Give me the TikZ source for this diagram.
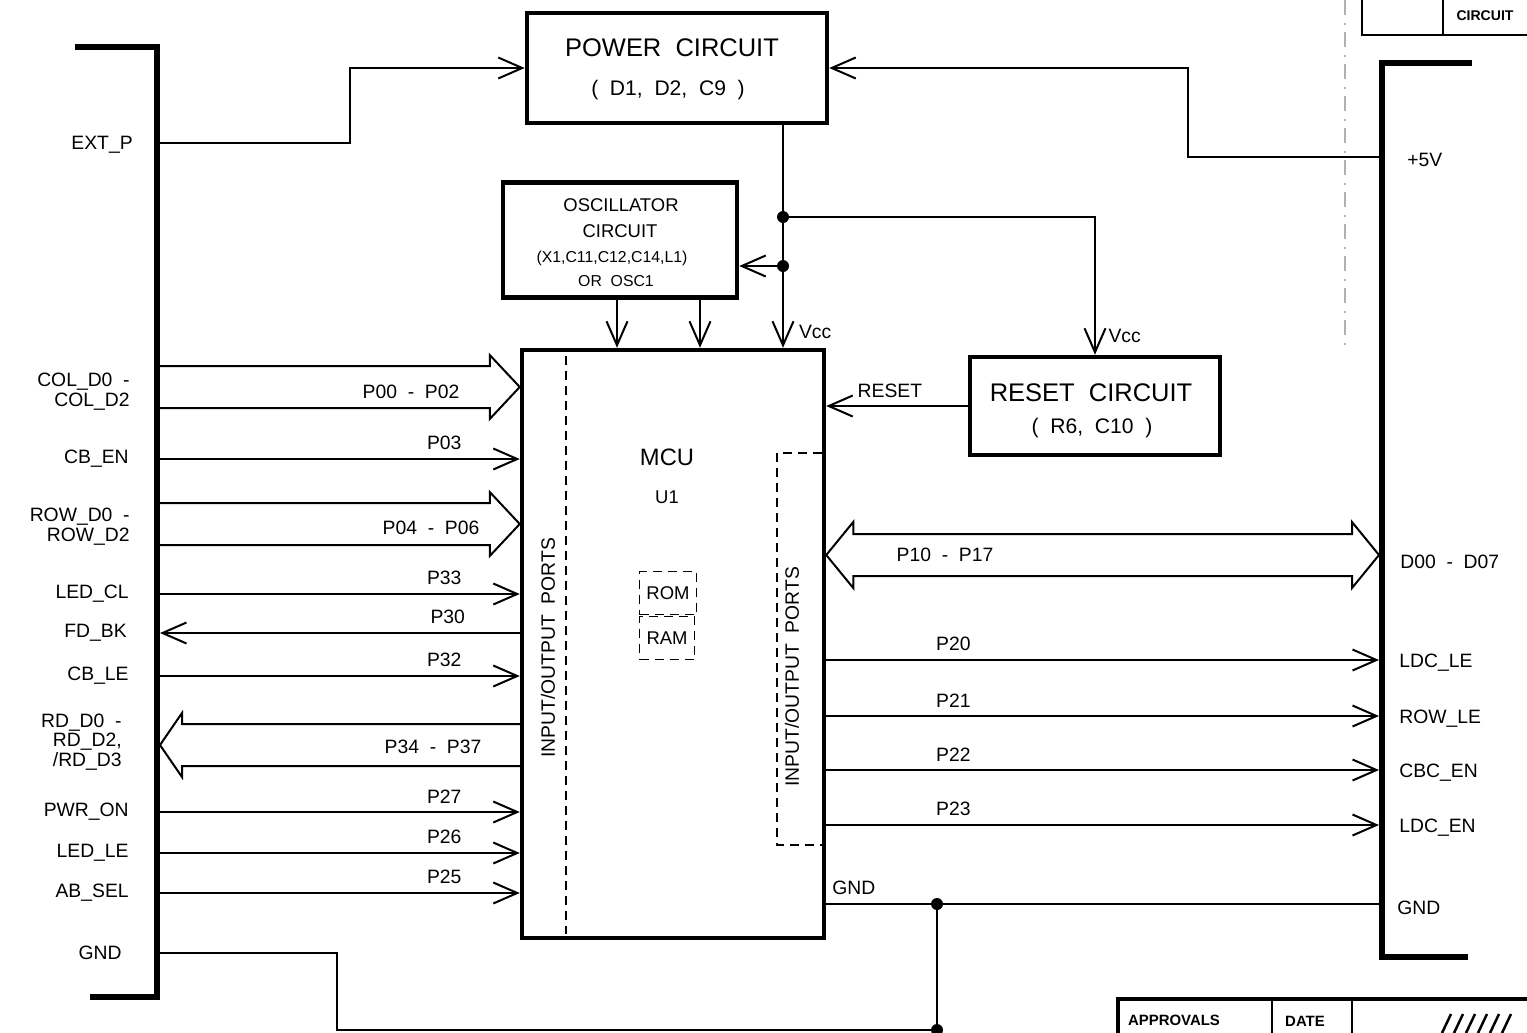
\documentclass[tikz,border=0pt]{standalone}
\usepackage{fontspec}
\setmainfont{Liberation Sans}
\usepackage{tikz}
\usetikzlibrary{arrows.meta,calc,positioning}

% fat bus arrow: #1 tail point, #2 tip point (same height), #3 head base offset
\newcommand{\busarrow}[3]{%
  \draw[wire] ($(#1)+(0,-21)$) -- ($(#2)+(#3,-21)$) -- ($(#2)+(#3,-32)$) -- (#2)
    -- ($(#2)+(#3,32)$) -- ($(#2)+(#3,21)$) -- ($(#1)+(0,21)$);}

\begin{document}
\begin{tikzpicture}[x=0.2mm,y=-0.2mm,
  box/.style={draw,line width=0.9mm,inner sep=0pt},
  bar/.style={line width=1.1mm},
  wire/.style={line width=0.4mm},
  sig/.style={wire,-{Straight Barb[length=4.8mm,width=4.2mm]}},
  port/.style={draw,line width=0.35mm,dash pattern=on 1.8mm off 1.2mm},
  jdot/.style={circle,fill,inner sep=0pt,minimum size=2.4mm},
  lab/.style={inner sep=0pt,font=\fontsize{11}{11.2}\selectfont},
  pinlab/.style={lab,above=1.6mm},
  big/.style={inner sep=0pt,font=\fontsize{14.5}{16}\selectfont},
  mid/.style={inner sep=0pt,font=\fontsize{12}{13}\selectfont},
  small/.style={inner sep=0pt,font=\fontsize{9}{10}\selectfont}]
\useasboundingbox (0,0) rectangle (1527,1033);

% connector bars
\draw[bar] (75,47) -- (157,47) -- (157,997) -- (90,997);
\draw[bar] (1472,63) -- (1382,63) -- (1382,957) -- (1468,957);

% blocks
\node[box,minimum width=60mm,minimum height=22mm] (pwr) at (677,68) {};
\node[big] (pwr-a) at (672,48) {POWER\ \ CIRCUIT};
\node[mid] (pwr-b) at (668,90) {(\ \ D1,\ \ D2,\ \ C9\ \ )};

\node[box,minimum width=46.8mm,minimum height=23mm] (osc) at (620,240) {};
\node[lab,font=\fontsize{10.5}{11}\selectfont] (osc-a) at (621,205) {OSCILLATOR};
\node[lab,font=\fontsize{10.5}{11}\selectfont] (osc-b) at (620,231) {CIRCUIT};
\node[small] (osc-c) at (612,258) {(X1,C11,C12,C14,L1)};
\node[small] (osc-d) at (616,281) {OR\ \ OSC1};

\node[box,minimum width=60.4mm,minimum height=117.6mm] (mcu) at (673,644) {};
\node[lab,font=\fontsize{13.5}{14}\selectfont] (mcu-a) at (667,457) {MCU};
\node[lab,font=\fontsize{10.5}{11}\selectfont] (mcu-b) at (667,497) {U1};
\node[port,lab,minimum width=11.4mm,minimum height=8.6mm,font=\fontsize{10.5}{11}\selectfont] (rom) at (668,593) {ROM};
\node[port,lab,minimum width=11mm,minimum height=8.6mm,font=\fontsize{10.5}{11}\selectfont] (ram) at (667,638) {RAM};
\draw[port] (566,356) -- (566,934);
\draw[port] (822,453) -- (777,453) -- (777,845) -- (822,845);
\node[lab,rotate=90] (io-l) at (548,648) {INPUT/OUTPUT\ \ PORTS};
\node[lab,rotate=90] (io-r) at (792,677) {INPUT/OUTPUT\ \ PORTS};

\node[box,minimum width=50mm,minimum height=19.6mm] (rst) at (1095,406) {};
\node[big] (rst-a) at (1091,393) {RESET\ \ CIRCUIT};
\node[mid] (rst-b) at (1092,428) {(\ \ R6,\ \ C10\ \ )};

% supply
\coordinate (L-extp) at (160,143);
\coordinate (R-5v) at (1379,157);
\coordinate (vx) at (783,0);
\coordinate (j1) at (783,217);
\coordinate (j2) at (783,266);
\node[lab,anchor=east] (t-extp) at (133,145) {EXT\_P};
\node[lab,anchor=west] (t-5v) at (1407,160) {+5V};
\draw[sig] (L-extp) -- ++(190,0) |- (pwr.west);
\draw[sig] (R-5v) -- ++(-191,0) |- (pwr.east);
\draw[sig] (pwr.south -| vx) -- (mcu.north -| vx) node[lab,right=3mm,pos=0.93] (vcc1) {Vcc};
\draw[sig] (j1) -| (rst.north) node[lab,right=2.5mm,pos=0.93] (vcc2) {Vcc};
\draw[sig] (j2) -- (j2 -| osc.east);
\node[jdot] at (j1) {};
\node[jdot] at (j2) {};
\foreach \xx in {617,700} {
  \coordinate (o\xx) at (\xx,0);
  \draw[sig] (osc.south -| o\xx) -- (mcu.north -| o\xx);
}
\draw[sig] (rst.west) -- (rst.west -| mcu.east) node[lab,above=1.5mm,pos=0.55] (t-rst) {RESET};

% left side signals
\coordinate (L-col) at (160,387);
\coordinate (L-row) at (160,524);
\coordinate (L-rd) at (160,745);
\busarrow{L-col}{mcu.west |- L-col}{-30}
\busarrow{L-row}{mcu.west |- L-row}{-30}
\busarrow{mcu.west |- L-rd}{L-rd}{22}
\node[lab,anchor=east,align=right] (t-col) at (130,392) {COL\_D0\ \ -\\COL\_D2};
\node[lab,anchor=east,align=right] (t-row) at (130,527) {ROW\_D0\ \ -\\ROW\_D2};
\node[lab,anchor=east,align=right] (t-rd) at (122,742) {RD\_D0\ \ -\\RD\_D2,\\/RD\_D3};
\node[lab] (p-col) at (411,392) {P00\ \ -\ \ P02};
\node[lab] (p-row) at (431,528) {P04\ \ -\ \ P06};
\node[lab] (p-rd) at (433,747) {P34\ \ -\ \ P37};
\foreach \nm/\yy/\txt/\pn in {cben/459/CB\_EN/P03, ledcl/594/LED\_CL/P33,
    cble/676/CB\_LE/P32, pwron/812/PWR\_ON/P27, ledle/853/LED\_LE/P26, absel/893/AB\_SEL/P25} {
  \coordinate (L-\nm) at (160,\yy);
  \node[lab,anchor=east] (t-\nm) at (129,\yy) {\txt};
  \draw[sig] (L-\nm) -- (L-\nm -| mcu.west) node[pinlab,pos=0.79] (p-\nm) {\pn};
}
\coordinate (L-fdbk) at (160,633);
\node[lab,anchor=east] (t-fdbk) at (127,633) {FD\_BK};
\draw[sig] (L-fdbk -| mcu.west) -- (L-fdbk) node[pinlab,pos=0.2] (p-fdbk) {P30};

% right side signals
\coordinate (R-bus) at (1379,555);
\coordinate (M-bus) at (mcu.east |- R-bus);
\draw[wire] ($(M-bus)+(27,-21)$) -- ($(R-bus)+(-27,-21)$) -- ($(R-bus)+(-27,-33)$) -- (R-bus)
  -- ($(R-bus)+(-27,33)$) -- ($(R-bus)+(-27,21)$) -- ($(M-bus)+(27,21)$)
  -- ($(M-bus)+(27,33)$) -- (M-bus) -- ($(M-bus)+(27,-33)$) -- cycle;
\node[lab] (p-bus) at (945,555) {P10\ \ -\ \ P17};
\node[lab,anchor=west] (t-bus) at (1400,562) {D00\ \ -\ \ D07};
\foreach \nm/\yy/\txt/\pn in {p20/660/LDC\_LE/P20, p21/716/ROW\_LE/P21,
    p22/770/CBC\_EN/P22, p23/825/LDC\_EN/P23} {
  \coordinate (R-\nm) at (1379,\yy);
  \node[lab,anchor=west] (t-\nm) at (1399,\yy+3) {\txt};
  \draw[sig] (R-\nm -| mcu.east) -- (R-\nm) node[pinlab,pos=0.23] (q-\nm) {\pn};
}

% ground
\coordinate (L-gnd) at (160,953);
\coordinate (R-gnd) at (1379,904);
\coordinate (jg) at (937,904);
\coordinate (gb) at (937,1030);
\node[lab,anchor=east] (t-gnd) at (122,953) {GND};
\node[lab,anchor=west] (t-gndr) at (1397,908) {GND};
\draw[wire] (R-gnd -| mcu.east) -- (R-gnd) node[pinlab,pos=0.05] (q-gnd) {GND};
\draw[wire] (L-gnd) -- ++(177,0) |- (gb);
\draw[wire] (jg) -- (gb);
\node[jdot] at (jg) {};
\node[jdot] at (gb) {};

% frame bits
\draw[line width=0.25mm,black!30,dash pattern=on 3mm off 1.5mm on 0.4mm off 1.5mm] (1345,0) -- (1345,345);
\draw[wire] (1362,0) -- (1362,35) -- (1527,35);
\draw[wire] (1443,0) -- (1443,35);
\node[small,font=\bfseries\fontsize{8}{9}\selectfont] (tb-c) at (1485,16) {CIRCUIT};
\draw[line width=0.7mm] (1118,1033) -- (1118,999) -- (1527,999);
\draw[wire] (1272,999) -- (1272,1033);
\draw[wire] (1352,999) -- (1352,1033);
\node[small,font=\bfseries\fontsize{8.5}{9}\selectfont] (tb-a) at (1174,1020) {APPROVALS};
\node[small,font=\bfseries\fontsize{8.5}{9}\selectfont] (tb-d) at (1305,1021) {DATE};
\foreach \xx in {1442,1454,...,1502} { \draw[line width=0.5mm] (\xx,1033) -- ++(9,-19); }
\end{tikzpicture}
\end{document}
